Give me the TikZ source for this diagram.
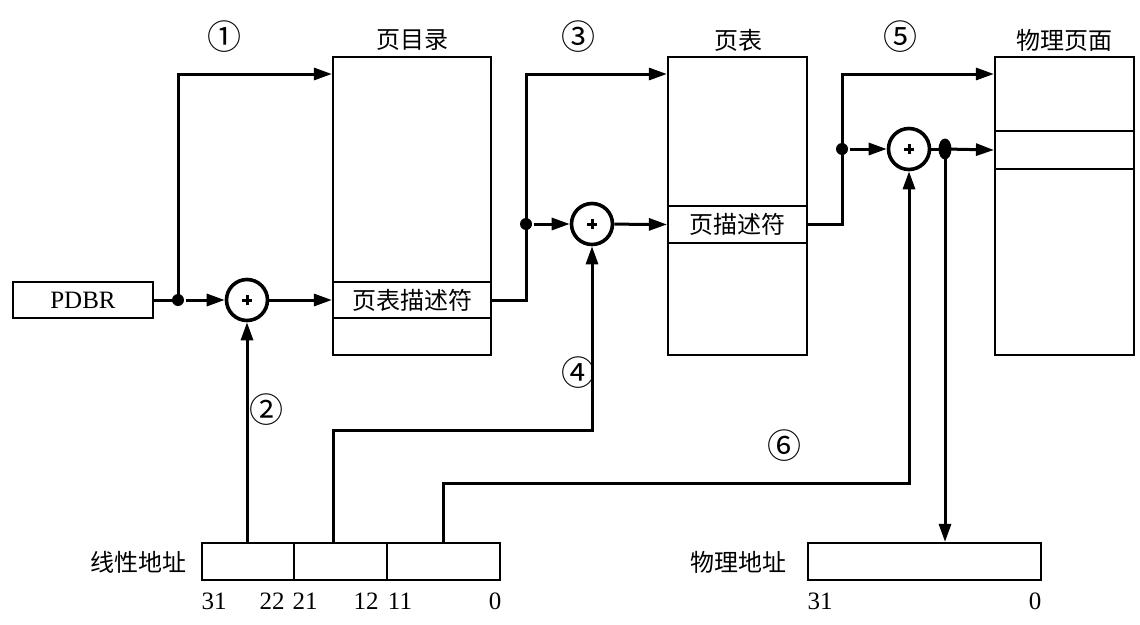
\documentclass[tikz,border=0pt]{standalone}
\usepackage{fontspec}
\setmainfont{Liberation Serif}
\newfontfamily\cjk{Noto Sans CJK SC}
\usetikzlibrary{arrows.meta,calc,shapes.geometric}
\begin{document}
\begin{tikzpicture}[x=1pt,y=-1pt, line width=3pt,
  >={Triangle[length=18pt,width=12pt]},
  box/.style={draw, line width=2.2pt, inner sep=0pt},
  adder/.style={circle, draw, line width=3.6pt, minimum size=41pt, inner sep=0pt},
  jdot/.style={circle, fill, inner sep=0pt, minimum size=12pt},
  edot/.style={ellipse, fill, inner sep=0pt, minimum width=13pt, minimum height=21pt},
  lbl/.style={font=\cjk\fontsize{24}{24}\selectfont, inner sep=0pt},
  num/.style={font=\fontsize{25}{25}\selectfont, inner sep=0pt},
  circnum/.style={font=\cjk\fontsize{34}{34}\selectfont, inner sep=0pt}]
\useasboundingbox (0,0) rectangle (1140,624);

% tables
\node[box, minimum width=158pt, minimum height=298pt] (pd) at (412,206) {};
\node[box, minimum width=158pt, minimum height=36pt, lbl] (pde) at (412,300) {页表描述符};
\node[box, minimum width=139pt, minimum height=298pt] (pt) at (737.5,206) {};
\node[box, minimum width=139pt, minimum height=37pt, lbl] (pte) at (737.5,224.5) {页描述符};
\node[box, minimum width=139pt, minimum height=298pt] (pp) at (1064.5,206) {};
\node[box, minimum width=139pt, minimum height=38pt] (ppe) at (1064.5,150) {};

\node[lbl] (lpd) at (412,40) {页目录};
\node[lbl] (lpt) at (738,40) {页表};
\node[lbl] (lpp) at (1064,40) {物理页面};

% PDBR
\node[box, minimum width=140pt, minimum height=36pt, num] (pdbr) at (83,300) {PDBR};

% address boxes
\node[box, minimum width=92pt, minimum height=37pt] (f1) at (248,561.5) {};
\node[box, minimum width=93pt, minimum height=37pt] (f2) at (340.5,561.5) {};
\node[box, minimum width=113pt, minimum height=37pt] (f3) at (443.5,561.5) {};
\node[box, minimum width=233pt, minimum height=37pt] (phys) at (924.5,561.5) {};
\node[lbl] (lla) at (138,562) {线性地址};
\node[lbl] (lpa) at (738,562) {物理地址};

\node[num] (b31) at (214,601) {31};
\node[num] (b22) at (272,601) {22};
\node[num] (b21) at (305,601) {21};
\node[num] (b12) at (366,601) {12};
\node[num] (b11) at (400,601) {11};
\node[num] (b0) at (495,601) {0};
\node[num] (p31) at (820,601) {31};
\node[num] (p0) at (1035,601) {0};

% circled numbers
\node[circnum] (c1) at (224,37) {①};
\node[circnum] (c2) at (266,410) {②};
\node[circnum] (c3) at (578,37) {③};
\node[circnum] (c4) at (578,373) {④};
\node[circnum] (c5) at (900,37) {⑤};
\node[circnum] (c6) at (784,446) {⑥};

% adders and junctions
\node[adder] (a1) at (247,300) {};
\node[adder] (a2) at (592,224) {};
\node[adder] (a3) at (909,149) {};
\foreach \a in {a1,a2,a3}{
  \draw[line width=3pt] ([xshift=-5pt]\a.center) -- ([xshift=5pt]\a.center)
    ([yshift=-5pt]\a.center) -- ([yshift=5pt]\a.center);
}
\node[jdot] (d1) at (178,300) {};
\node[jdot] (d2) at (526,224) {};
\node[jdot] (d3) at (842,149) {};
\node[edot] (e3) at (945,149) {};

\coordinate (t1) at (178,74);
\coordinate (t2) at (526,74);
\coordinate (t3) at (842,74);
\coordinate (g2) at (333,430);
\coordinate (g3) at (443,483);

% connectors
\draw (pdbr.east) -- (d1.center);
\draw[->] (d1.center) -- (t1) -- (t1 -| pd.west);
\draw[->] (d1) -- (a1);
\draw[->] (a1) -- (pde.west);

\draw (pde.east) -| (d2.center);
\draw[->] (d2.center) -- (t2) -- (t2 -| pt.west);
\draw[->] (d2) -- (a2);
\draw[->] (a2) -- (pte.west);

\draw (pte.east) -| (d3.center);
\draw[->] (d3.center) -- (t3) -- (t3 -| pp.west);
\draw[->] (d3) -- (a3);
\draw (a3) -- (e3.center);
\draw[->] (e3.center) -- (ppe.west);
\draw[->] (e3.center) -- (e3 |- phys.north);

\draw[->] (a1 |- f1.north) -- (a1);
\draw[->] (g2 |- f2.north) -- (g2) -| (a2);
\draw[->] (g3 |- f3.north) -- (g3) -| (a3);
\end{tikzpicture}
\end{document}
